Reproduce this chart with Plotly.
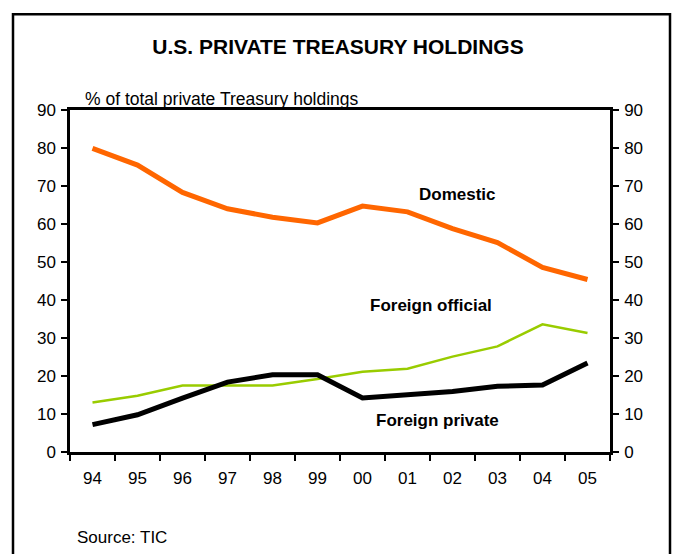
import plotly.graph_objects as go

# Données (% du total des avoirs privés en Treasuries)
annees = ["94", "95", "96", "97", "98", "99", "00", "01", "02", "03", "04", "05"]
domestic = [79.9, 75.5, 68.3, 64.0, 61.8, 60.3, 64.7, 63.2, 58.8, 55.1, 48.6, 45.4]
foreign_official = [13.0, 14.8, 17.5, 17.5, 17.5, 19.2, 21.1, 21.9, 25.1, 27.8, 33.6, 31.3]
foreign_private = [7.2, 9.8, 14.2, 18.4, 20.3, 20.3, 14.2, 14.9, 15.9, 17.3, 17.6, 23.4]
y_ticks = [0, 10, 20, 30, 40, 50, 60, 70, 80, 90]

police = "Liberation Sans, Arial, sans-serif"

fig = go.Figure()
fig.add_trace(go.Scatter(x=annees, y=foreign_official, mode="lines",
                         line=dict(color="#99CC00", width=2.5), name="Foreign official"))
fig.add_trace(go.Scatter(x=annees, y=foreign_private, mode="lines",
                         line=dict(color="#000000", width=5), name="Foreign private"))
fig.add_trace(go.Scatter(x=annees, y=domestic, mode="lines",
                         line=dict(color="#FF6600", width=5), name="Domestic"))
# trace invisible pour l'axe de droite
fig.add_trace(go.Scatter(x=annees, y=domestic, yaxis="y2", mode="lines",
                         line=dict(width=0), opacity=0, hoverinfo="skip", showlegend=False))

axe_y = dict(range=[0, 90], tickvals=y_ticks, ticks="outside", ticklen=6, tickwidth=2,
             tickcolor="black", showline=True, linecolor="black", linewidth=2.5,
             showgrid=False, zeroline=False, ticklabelstandoff=2,
             tickfont=dict(size=17, color="black", family=police))

fig.update_layout(
    width=676, height=554,
    margin=dict(l=70, r=66, t=110, b=102),
    paper_bgcolor="white", plot_bgcolor="white",
    showlegend=False,
    font=dict(family=police, color="black"),
    title=dict(text="<b>U.S. PRIVATE TREASURY HOLDINGS</b>", x=338 / 676, xanchor="center",
               y=1 - 47 / 554, yanchor="middle", font=dict(size=21, color="black")),
    xaxis=dict(type="category", range=[-0.5, 11.5], tickson="boundaries", ticks="outside",
               ticklen=6, tickwidth=2, tickcolor="black", showline=True, linecolor="black",
               linewidth=2.5, mirror=True, showgrid=False, ticklabelstandoff=9,
               tickfont=dict(size=17, color="black", family=police)),
    yaxis=axe_y,
    yaxis2=dict(axe_y, overlaying="y", side="right"),
)

# Étiquettes des séries
for texte, x, y in [("Domestic", 457, 195), ("Foreign official", 431, 306),
                    ("Foreign private", 437, 421)]:
    fig.add_annotation(text=f"<b>{texte}</b>", x=(x - 70) / 540, y=(452 - y) / 341.5,
                       xref="paper", yref="paper", xanchor="center", yanchor="middle",
                       showarrow=False, font=dict(size=17, color="black", family=police))

fig.add_annotation(text="% of total private Treasury holdings", x=(83 - 70) / 540,
                   y=(452 - 100) / 341.5, xref="paper", yref="paper", xanchor="left",
                   yanchor="middle", showarrow=False,
                   font=dict(size=17.5, color="black", family=police))
fig.add_annotation(text="Source: TIC", x=(75 - 70) / 540, y=(452 - 537) / 341.5,
                   xref="paper", yref="paper", xanchor="left", yanchor="middle",
                   showarrow=False, font=dict(size=17, color="black", family=police))

# cadre extérieur
fig.add_shape(type="rect", xref="paper", yref="paper",
              x0=(13 - 70) / 540, x1=(670 - 70) / 540,
              y0=(452 - 570) / 341.5, y1=(452 - 15) / 341.5,
              line=dict(color="black", width=2.5), fillcolor="rgba(0,0,0,0)", layer="below")

# pas de marge autour du graphique dans la page
fig.write_html("out.html", config={"displayModeBar": False},
               post_script="document.body.style.margin='0';")
